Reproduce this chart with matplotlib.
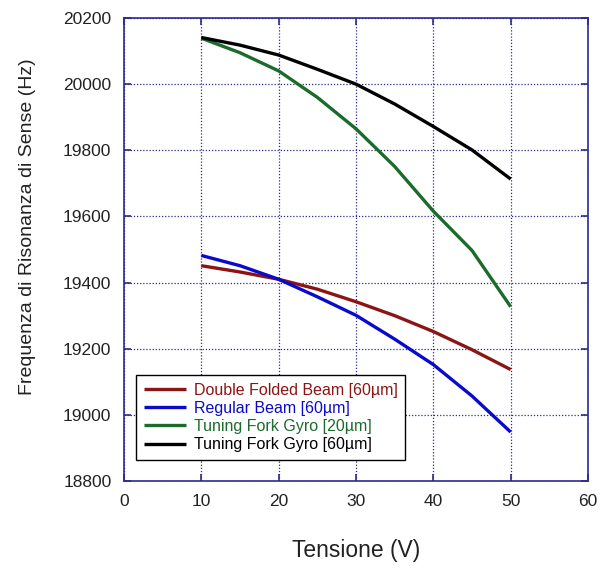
import matplotlib.pyplot as plt

plt.rcParams["font.family"] = ["Liberation Sans", "DejaVu Sans"]

# Tensione (V)
volts = [10, 15, 20, 25, 30, 35, 40, 45, 50]

# Frequenza di risonanza di sense (Hz)
double_folded_60 = [19451, 19432, 19410, 19380, 19342, 19300, 19252, 19197, 19137]
regular_60 = [19482, 19451, 19410, 19357, 19301, 19229, 19152, 19057, 18948]
tfg_20 = [20139, 20095, 20040, 19960, 19865, 19751, 19616, 19497, 19327]
tfg_60 = [20141, 20118, 20088, 20045, 20000, 19940, 19872, 19801, 19713]

labels = ["Double Folded Beam [60\u00b5m]", "Regular Beam [60\u00b5m]",
          "Tuning Fork Gyro [20\u00b5m]", "Tuning Fork Gyro [60\u00b5m]"]
colors = ["#8b1414", "#0a0acc", "#1b6b2c", "#000000"]
series = [double_folded_60, regular_60, tfg_20, tfg_60]

navy = "#2b2b8f"
txt = "#222222"

fig = plt.figure(figsize=(6.02, 5.69), dpi=100)
ax = fig.add_axes([124 / 602, 1 - 481 / 569, 464 / 602, 463 / 569])

for y, lab, c in zip(series, labels, colors):
    ax.plot(volts, y, color=c, linewidth=2.4, label=lab, solid_capstyle="butt")

ax.set_xlim(0, 60)
ax.set_ylim(18800, 20200)
ax.set_xticks(range(0, 61, 10))
ax.set_yticks(range(18800, 20201, 200))

ax.grid(True, color=navy, linestyle=(0, (1, 1.5)), linewidth=0.9)
for s in ax.spines.values():
    s.set_color(navy)
    s.set_linewidth(1.2)
ax.tick_params(direction="in", length=5, width=1.2, color=navy,
               top=True, right=True, labelsize=12.5, labelcolor=txt, pad=9)

ax.set_xlabel("Tensione (V)", fontsize=16.5, labelpad=22, color=txt)
ax.set_ylabel("Frequenza di Risonanza di Sense (Hz)", fontsize=14, color=txt)
ax.yaxis.set_label_coords(-0.19, 0.55)

leg = ax.legend(loc="lower left", bbox_to_anchor=(0.026, 0.045), borderaxespad=0,
                fontsize=11.5, handlelength=2.6, handletextpad=0.5,
                labelspacing=0.2, fancybox=False, framealpha=1,
                edgecolor="black", borderpad=0.5)
leg.get_frame().set_linewidth(1.0)
for t, c in zip(leg.get_texts(), colors):
    t.set_color(c)

plt.savefig("out.png", dpi=100)
